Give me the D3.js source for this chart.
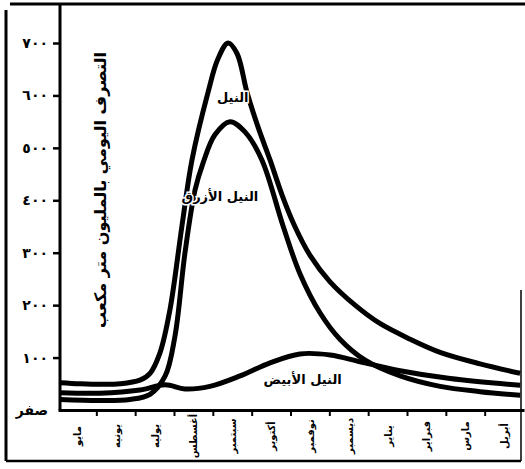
<!DOCTYPE html>
<html><head><meta charset="utf-8">
<script src="https://cdn.jsdelivr.net/npm/d3@7"></script>
<style>body{margin:0;background:#fff}svg{display:block}</style>
</head><body>
<svg id="c" width="525" height="469"></svg>
<script>
// ---- data ----
const months = ["مايو","يونيه","يوليه","أغسطس","سبتمبر","أكتوبر","نوفمبر","ديسمبر","يناير","فبراير","مارس","أبريل"];
const yTickValues = [0,100,200,300,400,500,600,700];
const yTickLabels = ["صفر","١٠٠","٢٠٠","٣٠٠","٤٠٠","٥٠٠","٦٠٠","٧٠٠"];
const yTitle = "التصرف اليومي بالمليون متر مكعب";
const seriesNames = ["النيل","النيل الأزرق","النيل الأبيض"];
// time in months from start of May (0..12)
const nileT = [0.05,0.57,1.08,1.6,2.11,2.37,2.63,2.88,3.19,3.45,3.86,4.12,4.38,4.61,4.87,5.15,5.46,5.77,6.1,6.49,7.0,7.65,8.29,9.07,9.84,10.87,11.9];
const nileV = [52,50,49,50,57,70,110,190,350,477,605,670,700,680,605,540,477,410,350,295,245,200,165,135,110,88,70];
const blueT = [0.05,1.08,1.85,2.37,2.76,3.01,3.27,3.53,3.73,4.04,4.43,4.82,5.25,5.8,6.23,6.75,7.26,7.91,8.81,9.84,10.87,11.9];
const blueV = [20,18,20,30,65,140,300,420,470,525,550,530,477,350,260,185,135,95,65,45,35,28];
const whiteT = [0.05,1.08,2.11,2.76,3.27,3.91,4.69,5.46,6.23,7.01,7.78,8.81,10.1,11.9];
const whiteV = [33,32,38,48,40,45,65,90,107,105,92,75,60,47];

// ---- drawing ----
const svg = d3.select("#c");
const x = d3.scaleLinear().domain([0,12]).range([58,524]);
const xb = d3.scaleBand().domain(months).range([58,524]);
const y = d3.scaleLinear().domain([0,700]).range([410,43]);
const F = "'DejaVu Sans', sans-serif";

// frame
const frame = svg.append("g").attr("stroke","#000").attr("fill","none");
frame.append("line").attr("x1",10).attr("x2",525).attr("y1",4).attr("y2",4).attr("stroke-width",3);
frame.append("line").attr("x1",6).attr("x2",6).attr("y1",10).attr("y2",461).attr("stroke-width",3);
frame.append("line").attr("x1",6).attr("x2",521).attr("y1",461).attr("y2",461).attr("stroke-width",2.5);
frame.append("line").attr("x1",521).attr("x2",521).attr("y1",290).attr("y2",461).attr("stroke-width",1.5);

// y axis
const yAxis = d3.axisLeft(y).tickValues(yTickValues).tickSize(7).tickFormat((d,i)=>yTickLabels[i]);
const gy = svg.append("g").attr("transform","translate(60,0)").call(yAxis);
gy.select(".domain").remove();
gy.selectAll(".tick line").attr("stroke-width",2.5);
gy.selectAll(".tick text").attr("font-family",F).attr("font-size",14).attr("font-weight","bold").attr("x",-12).attr("fill","#000");
gy.selectAll(".tick").filter(d=>d===0).select("line").remove();
svg.append("line").attr("x1",60).attr("x2",60).attr("y1",4).attr("y2",410).attr("stroke","#000").attr("stroke-width",3);

// x axis (month strip)
const xAxis = d3.axisBottom(xb).tickSize(0).tickFormat("");
const gx = svg.append("g").attr("transform","translate(0,410)").call(xAxis);
gx.select(".domain").attr("stroke-width",3);
gx.selectAll(".bnd").data(months.slice(1)).enter().append("line")
  .attr("x1",d=>xb(d)).attr("x2",d=>xb(d)).attr("y1",0).attr("y2",6).attr("stroke","#000").attr("stroke-width",2);
gx.selectAll(".mlab").data(months).enter().append("text")
  .attr("transform",d=>`translate(${xb(d)+xb.bandwidth()/2},26) rotate(-90)`)
  .attr("text-anchor","middle").attr("dominant-baseline","central").attr("fill","#000")
  .attr("font-family",F).attr("font-size",10).attr("font-weight","bold").text(d=>d);

// y title
svg.append("text").attr("transform","translate(100,190) rotate(-90)")
  .attr("text-anchor","middle").attr("dominant-baseline","central")
  .attr("font-family",F).attr("font-size",16).attr("font-weight","bold").text(yTitle);

// curves
const line = d3.line().x(d=>x(d[0])).y(d=>y(d[1])).curve(d3.curveCatmullRom.alpha(0.5));
const series = [d3.zip(nileT,nileV), d3.zip(blueT,blueV), d3.zip(whiteT,whiteV)];
svg.append("g").selectAll("path").data(series).enter().append("path")
  .attr("d",line).attr("fill","none").attr("stroke","#000").attr("stroke-width",5).attr("stroke-linejoin","round");

// labels on curves
const labPos = [[4.5,597],[4.17,408],[6.3,58]];
svg.append("g").selectAll("text").data(seriesNames).enter().append("text")
  .attr("x",(d,i)=>x(labPos[i][0])).attr("y",(d,i)=>y(labPos[i][1]))
  .attr("text-anchor","middle").attr("dominant-baseline","central")
  .attr("font-family",F).attr("font-size",13).attr("font-weight","bold")
  .attr("stroke","#fff").attr("stroke-width",3).attr("paint-order","stroke").text(d=>d);
</script>
</body></html>
